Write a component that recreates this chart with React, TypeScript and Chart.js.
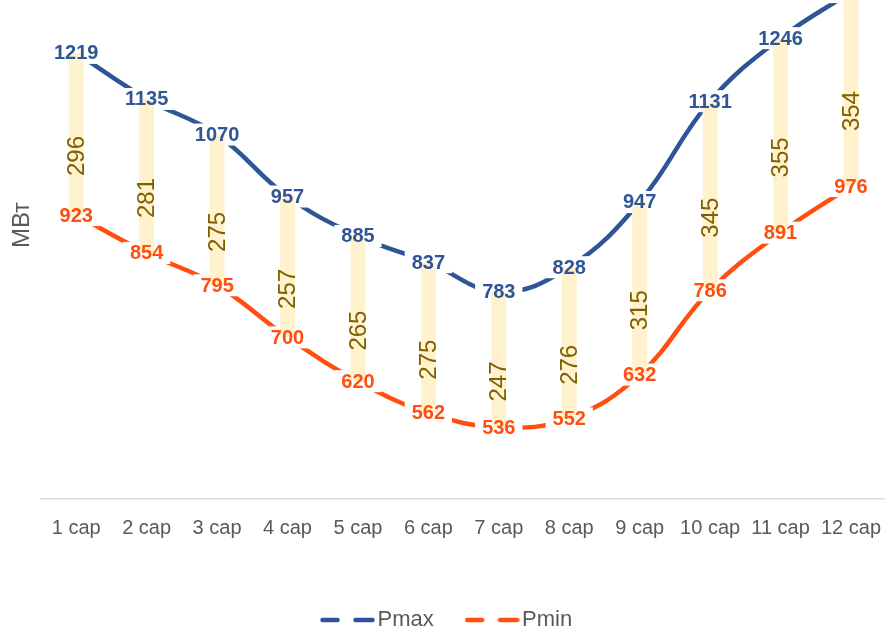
import React, { useEffect, useRef } from "react";
import { Chart, registerables } from "chart.js";

Chart.register(...registerables);

const categories = ["1 сар", "2 сар", "3 сар", "4 сар", "5 сар", "6 сар", "7 сар", "8 сар", "9 сар", "10 сар", "11 сар", "12 сар"];
const pmax = [1219, 1135, 1070, 957, 885, 837, 783, 828, 947, 1131, 1246, 1330];
const pmin = [923, 854, 795, 700, 620, 562, 536, 552, 632, 786, 891, 976];
const diff = [296, 281, 275, 257, 265, 275, 247, 276, 315, 345, 355, 354];

const FONT = '"Liberation Sans", Arial, sans-serif';
const BLUE = "#2F5597";
const ORANGE = "#FF4E0E";
const BAR = "#FFF2CC";
const DIFF = "#7F6000";
const GRAY = "#595959";

function dashSample(color: string): HTMLCanvasElement {
  const c = document.createElement("canvas");
  c.width = 55;
  c.height = 8;
  const g = c.getContext("2d")!;
  g.strokeStyle = color;
  g.lineWidth = 4.5;
  g.lineCap = "round";
  g.beginPath();
  g.moveTo(2.5, 4);
  g.lineTo(17.5, 4);
  g.moveTo(35.5, 4);
  g.lineTo(52.5, 4);
  g.stroke();
  return c;
}

const labelPlugin = {
  id: "valueLabels",
  afterDatasetDraw(chart: any, args: any) {
    if (args.index !== 1 && args.index !== 2) return;
    const ctx = chart.ctx;
    ctx.save();
    ctx.font = `bold 20px ${FONT}`;
    ctx.fillStyle = "#ffffff";
    const data = chart.data.datasets[args.index].data;
    args.meta.data.forEach((pt: any, i: number) => {
      const w = ctx.measureText(String(data[i])).width + 14;
      const h = 22;
      ctx.fillRect(pt.x - w / 2, pt.y - h / 2, w, h);
    });
    ctx.restore();
  },
  afterDatasetsDraw(chart: any) {
    const ctx = chart.ctx;
    ctx.save();
    const barMeta = chart.getDatasetMeta(0);
    ctx.font = `24px ${FONT}`;
    ctx.fillStyle = DIFF;
    ctx.textAlign = "center";
    ctx.textBaseline = "middle";
    barMeta.data.forEach((bar: any, i: number) => {
      const p = bar.getProps(["x", "y", "base"], true);
      const cy = (p.y + p.base) / 2 + 22;
      ctx.save();
      ctx.translate(p.x, cy);
      ctx.rotate(-Math.PI / 2);
      ctx.fillText(String(diff[i]), 0, 1);
      ctx.restore();
    });
    ctx.font = `bold 20px ${FONT}`;
    [1, 2].forEach((di) => {
      const meta = chart.getDatasetMeta(di);
      const ds = chart.data.datasets[di];
      ctx.fillStyle = ds.borderColor;
      meta.data.forEach((pt: any, i: number) => {
        ctx.fillText(String(ds.data[i]), pt.x, pt.y + 1);
      });
    });
    ctx.restore();
  },
};

export default function App() {
  const ref = useRef<HTMLCanvasElement>(null);

  useEffect(() => {
    document.body.style.margin = "0";
    const canvas = ref.current;
    if (!canvas) return;
    const samples: Record<string, HTMLCanvasElement> = {
      Pmax: dashSample(BLUE),
      Pmin: dashSample(ORANGE),
    };
    const chart = new Chart(canvas, {
      type: "line",
      data: {
        labels: categories,
        datasets: [
          {
            type: "bar",
            label: "diff",
            data: pmin.map((v, i) => [v, pmax[i]]) as any,
            backgroundColor: BAR,
            borderWidth: 0,
            barPercentage: 0.21,
            categoryPercentage: 1,
            order: 0,
          } as any,
          {
            type: "line",
            label: "Pmax",
            data: pmax,
            borderColor: BLUE,
            backgroundColor: BLUE,
            borderWidth: 4.5,
            pointRadius: 0,
            tension: 0.4,
            fill: false,
            order: 1,
          },
          {
            type: "line",
            label: "Pmin",
            data: pmin,
            borderColor: ORANGE,
            backgroundColor: ORANGE,
            borderWidth: 4.5,
            pointRadius: 0,
            tension: 0.4,
            fill: false,
            order: 2,
          },
        ],
      },
      options: {
        responsive: false,
        animation: false,
        layout: { padding: { left: 2.6, right: 0, top: 0, bottom: 0 } },
        plugins: {
          title: { display: false },
          tooltip: { enabled: false },
          legend: {
            display: true,
            position: "bottom",
            labels: {
              usePointStyle: true,
              pointStyleWidth: 38,
              padding: 39.3,
              color: GRAY,
              font: { family: FONT, size: 22 },
              filter: (item: any) => item.datasetIndex !== 0,
              generateLabels: (c: any) => {
                const items = (Chart.defaults.plugins.legend.labels as any).generateLabels(c);
                return items.map((it: any) => ({
                  ...it,
                  pointStyle: samples[it.text] || "line",
                  lineWidth: 0,
                  fontColor: GRAY,
                }));
              },
            },
          },
        },
        scales: {
          x: {
            grid: { display: false, drawTicks: false },
            border: { display: true, color: "#D9D9D9", width: 1.5 },
            ticks: {
              color: GRAY,
              font: { family: FONT, size: 20 },
              padding: 17,
              autoSkip: false,
              maxRotation: 0,
              minRotation: 0,
            },
            afterFit: (scale: any) => {
              scale.height = 70.7;
            },
          },
          y: {
            min: 405,
            max: 1405,
            grid: { display: false, drawTicks: false },
            border: { display: false },
            ticks: { display: false },
            title: {
              display: true,
              text: "МВт",
              color: GRAY,
              font: { family: FONT, size: 24 },
              padding: { top: 5, bottom: 0 },
            },
            afterFit: (scale: any) => {
              scale.width = 38.4;
            },
          },
        },
      },
      plugins: [labelPlugin],
    });
    return () => chart.destroy();
  }, []);

  return (
    <div style={{ width: 885, height: 629, overflow: "hidden", position: "relative", background: "#fff" }}>
      <div style={{ position: "absolute", left: 0, top: -49, width: 898, height: 690 }}>
        <canvas ref={ref} width={898} height={690} style={{ width: 898, height: 690, display: "block" }} />
      </div>
    </div>
  );
}
